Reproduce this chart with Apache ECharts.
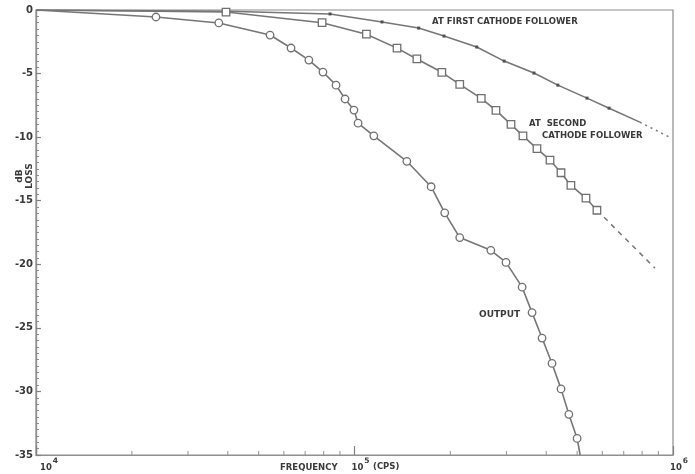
<!DOCTYPE html>
<html>
<head>
<meta charset="utf-8">
<script src="https://cdn.jsdelivr.net/npm/echarts@6/dist/echarts.min.js"></script>
<style>
  html, body { margin: 0; padding: 0; background: #ffffff; }
  #chart { width: 695px; height: 474px; }
</style>
</head>
<body>
<div id="chart"></div>
<script>
// Frequency axis (cps, log) and loss axis (dB)
const freqMin = 1e4;
const freqMax = 1e6;
const minorFreqTicks = [2e4, 3e4, 4e4, 5e4, 6e4, 7e4, 8e4, 9e4,
                        2e5, 3e5, 4e5, 5e5, 6e5, 7e5, 8e5, 9e5];
const lossMin = -35;
const lossMax = 0;
const lossStep = 5;

// At first cathode follower
const firstLeadFreq = [1e4, 4e4, 83.8e3];
const firstLeadLoss = [0, -0.1, -0.31];
const firstFreq = [83.8e3, 122e3, 159e3, 191e3, 242e3, 295e3, 366e3, 435e3, 537e3, 630e3];
const firstLoss = [-0.31, -0.94, -1.42, -2.05, -2.91, -4.02, -4.96, -5.91, -6.93, -7.72];
const firstRunFreq = [630e3, 787e3];
const firstRunLoss = [-7.72, -8.82];
const firstExtFreq = [787e3, 975e3];
const firstExtLoss = [-8.82, -10.0];

// At second cathode follower
const secondLeadFreq = [1e4, 39.5e3];
const secondLeadLoss = [0, -0.16];
const secondFreq = [39.5e3, 79.1e3, 109e3, 136e3, 157e3, 188e3, 214e3, 250e3, 278e3,
                    310e3, 338e3, 374e3, 411e3, 445e3, 478e3, 533e3, 577e3];
const secondLoss = [-0.16, -1.0, -1.9, -3.0, -3.85, -4.9, -5.85, -6.95, -7.9,
                    -9.0, -9.9, -10.9, -11.8, -12.8, -13.8, -14.8, -15.75];
const secondExtFreq = [577e3, 878e3];
const secondExtLoss = [-15.75, -20.3];

// Output
const outLeadFreq = [1e4, 23.8e3];
const outLeadLoss = [0, -0.55];
const outFreq = [23.8e3, 37.5e3, 54.3e3, 63.2e3, 71.9e3, 79.6e3, 87.5e3, 93.4e3, 99.6e3,
                 102.6e3, 115e3, 146e3, 174e3, 192e3, 214e3, 268e3, 299e3, 336e3,
                 361e3, 388e3, 417e3, 445e3, 471e3, 500e3];
const outLoss = [-0.55, -1.02, -1.97, -2.99, -3.94, -4.88, -5.91, -7.0, -7.87,
                 -8.9, -9.9, -11.9, -13.9, -15.95, -17.9, -18.9, -19.85, -21.8,
                 -23.8, -25.8, -27.8, -29.8, -31.8, -33.7];
const outRunFreq = [500e3, 511e3];
const outRunLoss = [-33.7, -35];

const pairs = (xs, ys) => xs.map((x, i) => [x, ys[i]]);

const ink = '#3a3a3a';
const curve = '#767676';
const letterFont = '"DejaVu Sans", sans-serif';

function plain(data, extra) {
  return Object.assign({
    type: 'line', data: data, symbol: 'none', silent: true, z: 2,
    lineStyle: { color: curve, width: 1.6 }
  }, extra || {});
}

const chart = echarts.init(document.getElementById('chart'), null, { renderer: 'canvas' });

chart.setOption({
  animation: false,
  backgroundColor: '#ffffff',
  grid: {
    left: 36, right: 22, top: 10, bottom: 19,
    show: true, borderColor: '#8c8c8c', borderWidth: 1.2
  },
  xAxis: {
    type: 'log', logBase: 10, min: freqMin, max: freqMax,
    axisLine: { show: true, onZero: false, lineStyle: { color: '#909090', width: 1.2 } },
    axisTick: { show: true, inside: true, length: 9, lineStyle: { color: '#808080', width: 1.2 } },
    splitLine: { show: false },
    axisLabel: {
      margin: 2,
      formatter: function (v) {
        const e = Math.round(Math.log10(v));
        // the leftmost label sits just inside the corner
        return (e === 4 ? '{first|10}' : '{b|10}') + '{s|' + e + '}';
      },
      rich: {
        first: { fontFamily: letterFont, fontSize: 8.5, fontWeight: 'bold', color: ink,
                 verticalAlign: 'bottom', padding: [6, 0, 0, 26] },
        b: { fontFamily: letterFont, fontSize: 8.5, fontWeight: 'bold', color: ink,
             verticalAlign: 'bottom', padding: [6, 0, 0, 12] },
        s: { fontFamily: letterFont, fontSize: 7.5, fontWeight: 'bold', color: ink,
             verticalAlign: 'bottom', padding: [0, 0, 7, 1] }
      }
    }
  },
  yAxis: {
    type: 'value', min: lossMin, max: lossMax, interval: lossStep,
    axisLine: { show: true, onZero: false, lineStyle: { color: '#909090', width: 1.4 } },
    axisTick: { show: true, inside: true, length: 5, lineStyle: { color: '#808080', width: 1.2 } },
    minorTick: { show: true, splitNumber: 10, length: 3, lineStyle: { color: '#8c8c8c', width: 1 } },
    splitLine: { show: false },
    axisLabel: {
      margin: 3, fontFamily: letterFont, fontSize: 10, fontWeight: 'bold', color: ink
    }
  },
  series: [
    // minor decade ticks on the frequency axis
    {
      type: 'scatter', silent: true, clip: false, z: 1,
      data: minorFreqTicks.map(f => [f, lossMin]),
      symbol: 'rect', symbolSize: [1.2, 4], symbolOffset: [0, -2],
      itemStyle: { color: '#8c8c8c' }
    },

    // first cathode follower
    plain(pairs(firstLeadFreq, firstLeadLoss)),
    plain(pairs(firstRunFreq, firstRunLoss)),
    plain(pairs(firstExtFreq, firstExtLoss), { lineStyle: { color: curve, width: 1.5, type: [2, 4] } }),
    {
      type: 'line', name: 'At first cathode follower', silent: true, z: 3,
      data: pairs(firstFreq, firstLoss),
      symbol: 'rect', symbolSize: 3, showAllSymbol: true,
      lineStyle: { color: curve, width: 1.6 },
      itemStyle: { color: '#505050', borderWidth: 0 }
    },

    // second cathode follower
    plain(pairs(secondLeadFreq, secondLeadLoss)),
    plain(pairs(secondExtFreq, secondExtLoss), { lineStyle: { color: curve, width: 1.5, type: [5, 5] } }),
    {
      type: 'line', name: 'At second cathode follower', silent: true, z: 3,
      data: pairs(secondFreq, secondLoss),
      symbol: 'rect', symbolSize: 7.5, showAllSymbol: true,
      lineStyle: { color: curve, width: 1.6 },
      itemStyle: { color: '#ffffff', borderColor: '#707070', borderWidth: 1.3 }
    },

    // output
    plain(pairs(outLeadFreq, outLeadLoss)),
    plain(pairs(outRunFreq, outRunLoss)),
    {
      type: 'line', name: 'Output', silent: true, z: 3,
      data: pairs(outFreq, outLoss),
      symbol: 'circle', symbolSize: 7.5, showAllSymbol: true,
      lineStyle: { color: curve, width: 1.6 },
      itemStyle: { color: '#ffffff', borderColor: '#707070', borderWidth: 1.3 }
    }
  ],
  graphic: [
    { type: 'text', left: 432, top: 17,
      style: { text: 'AT FIRST CATHODE FOLLOWER', font: 'bold 8.5px ' + letterFont, fill: ink } },
    { type: 'text', left: 529, top: 119,
      style: { text: 'AT  SECOND', font: 'bold 8.5px ' + letterFont, fill: ink } },
    { type: 'text', left: 542, top: 131,
      style: { text: 'CATHODE FOLLOWER', font: 'bold 8.5px ' + letterFont, fill: ink } },
    { type: 'text', left: 479, top: 310,
      style: { text: 'OUTPUT', font: 'bold 9px ' + letterFont, fill: ink } },
    { type: 'text', left: 280, top: 463,
      style: { text: 'FREQUENCY', font: 'bold 8.5px ' + letterFont, fill: ink } },
    { type: 'text', left: 373, top: 462,
      style: { text: '(CPS)', font: 'bold 8.5px ' + letterFont, fill: ink } },
    { type: 'text', x: 19.5, y: 176, rotation: Math.PI / 2,
      style: { text: 'dB', font: 'bold 9px ' + letterFont, fill: ink,
               textAlign: 'center', textVerticalAlign: 'middle' } },
    { type: 'text', x: 30, y: 176, rotation: Math.PI / 2,
      style: { text: 'LOSS', font: 'bold 9px ' + letterFont, fill: ink,
               textAlign: 'center', textVerticalAlign: 'middle' } }
  ]
});
</script>
</body>
</html>
